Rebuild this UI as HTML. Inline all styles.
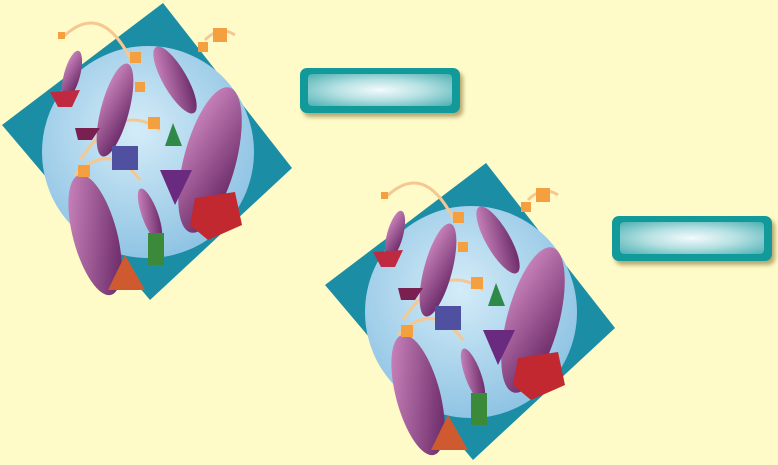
<!DOCTYPE html>
<html><head><meta charset="utf-8"><style>
html,body{margin:0;padding:0}
body{width:778px;height:465px;background:#fffbc8;position:relative;overflow:hidden;font-family:"Liberation Sans",sans-serif}
.btn{position:absolute;width:160px;height:45px;border-radius:7px;background:#129a9a;box-shadow:3px 4px 4px rgba(120,100,40,.55)}
.btn::after{content:"";position:absolute;left:8px;top:6px;right:8px;bottom:7px;border-radius:4px;background:radial-gradient(ellipse at 50% 50%,#f4fbfd 0%,#b5e0e2 45%,#4bb0b2 100%)}
svg{position:absolute;left:0;top:0}
</style></head><body>
<svg width="778" height="465">
 <defs>
  <radialGradient id="moon" cx="45%" cy="40%" r="60%"><stop offset="0" stop-color="#d4ecf8"/><stop offset="1" stop-color="#90c4e4"/></radialGradient>
  <linearGradient id="fig" x1="0" y1="0" x2="1" y2="1"><stop offset="0" stop-color="#d890c8"/><stop offset="1" stop-color="#5a1c5a"/></linearGradient>
  <g id="art">
   <polygon points="163,3 292,168 150,300 2,125" fill="#1b8ea6"/>
   <circle cx="148" cy="152" r="106" fill="url(#moon)"/>
   <path d="M62,38 Q100,0 130,58 M205,40 Q220,25 235,35 M80,160 Q120,100 160,130 M75,175 Q110,140 140,180" stroke="#f4c890" stroke-width="3" fill="none"/>
   <g fill="url(#fig)">
    <ellipse cx="210" cy="160" rx="26" ry="75" transform="rotate(15 210 160)"/>
    <ellipse cx="95" cy="235" rx="22" ry="62" transform="rotate(-15 95 235)"/>
    <ellipse cx="115" cy="110" rx="14" ry="48" transform="rotate(15 115 110)"/>
    <ellipse cx="175" cy="80" rx="12" ry="38" transform="rotate(-30 175 80)"/>
    <ellipse cx="72" cy="75" rx="8" ry="25" transform="rotate(15 72 75)"/>
    <ellipse cx="150" cy="215" rx="8" ry="28" transform="rotate(-20 150 215)"/>
   </g>
   <polygon points="195,198 235,192 242,225 208,240 190,225" fill="#c22830"/>
   <polygon points="160,170 192,170 175,205" fill="#6a2a80"/>
   <polygon points="125,255 145,290 108,290" fill="#d05a30"/>
   <rect x="148" y="233" width="16" height="32" fill="#3a8a3a"/>
   <rect x="112" y="146" width="26" height="24" fill="#5050a0"/>
   <polygon points="173,123 182,146 165,146" fill="#2f8a4a"/>
   <polygon points="50,92 80,90 72,107 58,107" fill="#c02a40"/>
   <polygon points="75,128 100,128 92,140 78,140" fill="#7a2050"/>
   <g fill="#f5a040">
    <rect x="130" y="52" width="11" height="11"/><rect x="135" y="82" width="10" height="10"/>
    <rect x="148" y="117" width="12" height="12"/><rect x="78" y="165" width="12" height="12"/>
    <rect x="198" y="42" width="10" height="10"/><rect x="213" y="28" width="14" height="14"/>
    <rect x="58" y="32" width="7" height="7"/>
   </g>
  </g>
 </defs>
 <use href="#art"/>
 <use href="#art" transform="translate(323,160)"/>
</svg>
<div class="btn" style="left:300px;top:68px"></div>
<div class="btn" style="left:612px;top:216px"></div>
</body></html>
